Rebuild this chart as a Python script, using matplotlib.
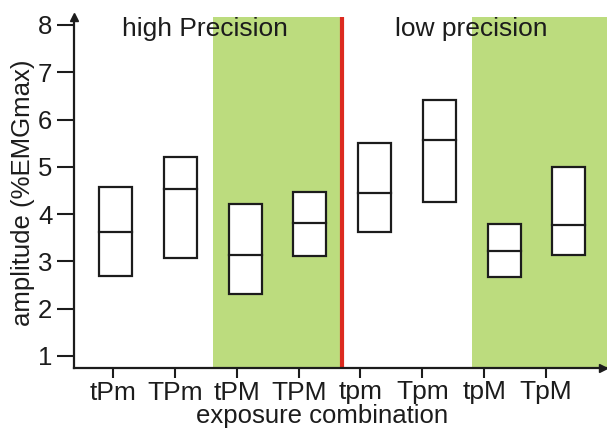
import matplotlib
matplotlib.use("Agg")
import matplotlib.pyplot as plt
from matplotlib.patches import Rectangle

plt.rcParams['font.family'] = ['Liberation Sans', 'DejaVu Sans']

categories = ["tPm", "TPm", "tPM", "TPM", "tpm", "Tpm", "tpM", "TpM"]
box_top = [4.57, 5.21, 4.22, 4.47, 5.51, 6.42, 3.79, 4.99]
box_median = [3.63, 4.53, 3.14, 3.82, 4.45, 5.57, 3.22, 3.76]
box_bottom = [2.70, 3.07, 2.32, 3.12, 3.63, 4.26, 2.66, 3.14]
group_labels = ["high Precision", "low precision"]
yticks = [1, 2, 3, 4, 5, 6, 7, 8]

GREEN = "#bcdc7e"
RED = "#dc2a1f"
INK = "#1c1c1c"

fig = plt.figure(figsize=(6.07, 4.30), dpi=100)
ax = fig.add_axes([74/607, 1-368/430, 533/607, (368-17)/430])

xmin, xmax = -0.646, 7.59
ax.set_xlim(xmin, xmax)
ax.set_ylim(0.746, 8.168)

# shaded regions and divider
ax.axvspan(1.5, 3.5, color=GREEN, lw=0, zorder=0)
ax.axvspan(5.5, xmax, color=GREEN, lw=0, zorder=0)
ax.axvline(3.5, color=RED, lw=3, zorder=1)

w = 0.51
for i, (t, m, b) in enumerate(zip(box_top, box_median, box_bottom)):
    ax.add_patch(Rectangle((i - w/2, b), w, t - b, facecolor="white",
                           edgecolor=INK, lw=1.6, zorder=3))
    ax.plot([i - w/2, i + w/2], [m, m], color=INK, lw=1.6, zorder=4)

# ticks (categories are on a slightly different spacing than boxes)
tick_pos = [-0.039 + 0.955*i for i in range(len(categories))]
ax.set_xticks(tick_pos)
ax.set_xticklabels(categories, fontsize=19, color=INK)
ax.set_yticks(yticks)
ax.set_yticklabels([str(v) for v in yticks], fontsize=18.5, color=INK)
ax.tick_params(axis='y', length=12.5, width=1.5, pad=3, colors=INK)
ax.tick_params(axis='x', length=7, width=1.5, pad=2, colors=INK)
for lab in ax.get_xticklabels() + ax.get_yticklabels():
    lab.set_color(INK)

for s in ["top", "right"]:
    ax.spines[s].set_visible(False)
for s in ["left", "bottom"]:
    ax.spines[s].set_linewidth(1.6)
    ax.spines[s].set_color(INK)
    ax.spines[s].set_zorder(5)

# arrow heads
ax.plot(0, 1.0, marker='^', color=INK, markersize=6, transform=ax.transAxes,
        clip_on=False, zorder=6)
ax.plot(0.993, 0, marker='>', color=INK, markersize=6, transform=ax.transAxes,
        clip_on=False, zorder=6)

ax.text(1.38, 7.92, group_labels[0], fontsize=19, ha='center', va='center', color=INK)
ax.text(5.49, 7.92, group_labels[1], fontsize=19, ha='center', va='center', color=INK)

ax.set_ylabel("amplitude (%EMGmax)", fontsize=18.5, color=INK)
ax.yaxis.set_label_coords(-(74-23)/533, 0.5)
ax.set_xlabel("exposure combination", fontsize=18.5, color=INK)
ax.xaxis.set_label_coords((321.7-74)/533, -(416-368)/351)
ax.xaxis.label.set_va('center')
ax.yaxis.label.set_va('center')

fig.savefig("out.png", dpi=100)
